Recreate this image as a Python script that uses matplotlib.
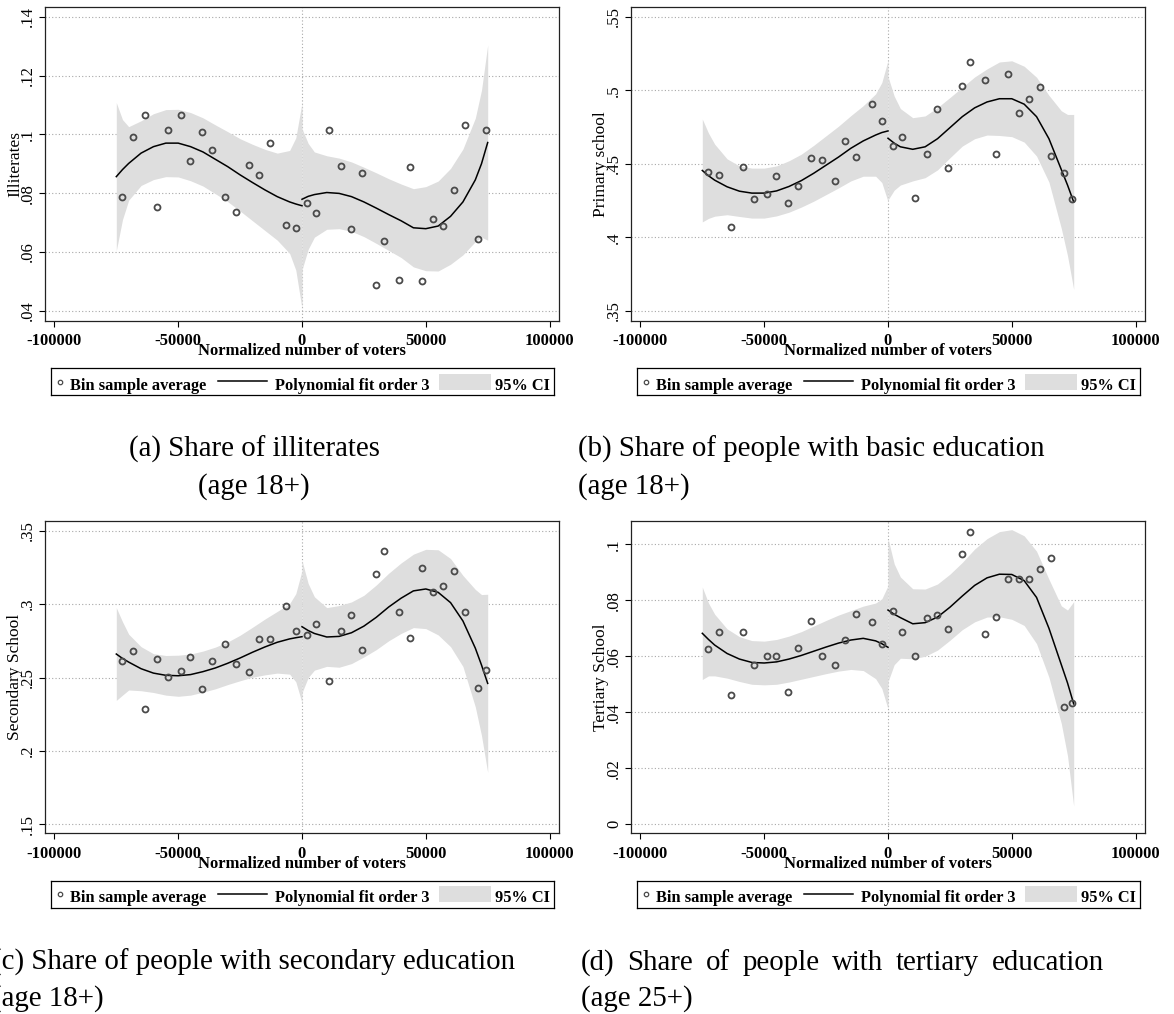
import matplotlib
matplotlib.use("Agg")
import matplotlib.pyplot as plt
from matplotlib.patches import Rectangle
import numpy as np

plt.rcParams["font.family"] = "Liberation Serif"

W, H = 1174, 1014

# x position of every bin average (same bins in all four panels)
bins_left = [-72800, -68200, -63300, -58600, -54000, -48900, -45100, -40500,
             -36400, -31000, -26500, -21400, -17200, -13000, -6500, -2500]
bins_right = [1900, 5700, 11000, 15700, 19900, 24300, 29700, 33200, 39300,
              43500, 48300, 53000, 57000, 61400, 66000, 70900, 74300]

# points where the cubic fit and its 95% band are drawn
fit_x_left = [-75000, -72500, -70000, -65000, -60000, -55000, -50000, -45000, -40000,
              -35000, -30000, -25000, -20000, -15000, -10000, -5000, -2500, 0]
fit_x_right = [0, 2500, 5000, 10000, 15000, 20000, 25000, 30000, 35000,
               40000, 45000, 50000, 55000, 60000, 65000, 70000, 72500, 75000]

# (a) illiterates
illit_left = [.0788, .0991, .1064, .0752, .1015, .1067, .0910, .1009,
              .0948, .0787, .0736, .0897, .0861, .0971, .0693, .0680]
illit_right = [.0768, .0731, .1016, .0893, .0677, .0868, .0488, .0637, .0506,
               .0890, .0502, .0713, .0687, .0809, .1031, .0645, .1015]
illit_fit_left = [.0856, .0880, .0901, .0936, .0958, .0970, .0970, .0958, .0940,
                  .0915, .0890, .0862, .0836, .0811, .0788, .0770, .0763, .0757]
illit_ci_left = [.0252, .0170, .0125, .0110, .0112, .0114, .0115, .0116, .0116,
                 .0117, .0119, .0123, .0130, .0138, .0148, .0175, .0225, .0350]
illit_fit_right = [.0779, .0789, .0795, .0802, .0799, .0788, .0770, .0749, .0727,
                   .0706, .0682, .0679, .0688, .0721, .0770, .0845, .0900, .0972]
illit_ci_right = [.0240, .0180, .0145, .0125, .0120, .0118, .0118, .0120, .0122,
                  .0125, .0133, .0143, .0153, .0163, .0180, .0210, .0250, .0332]

# (b) primary school
basic_left = [.4442, .4424, .4071, .4476, .4261, .4293, .4413, .4232,
              .4347, .4537, .4522, .4383, .4653, .4549, .4904, .4793]
basic_right = [.4623, .4682, .4266, .4569, .4875, .4469, .5029, .5192, .5072,
               .4565, .5110, .4848, .4938, .5022, .4555, .4440, .4257]
basic_fit_left = [.4454, .4418, .4388, .4343, .4313, .4300, .4300, .4315, .4345,
                  .4385, .4435, .4490, .4545, .4605, .4655, .4695, .4712, .4723]
basic_ci_left = [.0350, .0290, .0245, .0190, .0172, .0170, .0170, .0170, .0175,
                 .0180, .0190, .0200, .0210, .0222, .0240, .0280, .0340, .0480]
basic_fit_right = [.4673, .4640, .4615, .4598, .4615, .4670, .4745, .4820, .4880,
                   .4920, .4942, .4942, .4905, .4820, .4670, .4460, .4355, .4240]
basic_ci_right = [.0420, .0320, .0260, .0215, .0210, .0212, .0205, .0200, .0210,
                  .0225, .0250, .0258, .0258, .0268, .0295, .0400, .0480, .0595]

# (c) secondary school
sec_left = [.2612, .2678, .2283, .2624, .2506, .2542, .2637, .2419,
            .2615, .2728, .2592, .2540, .2760, .2760, .2989, .2819]
sec_right = [.2792, .2867, .2474, .2819, .2928, .2685, .3203, .3364, .2948,
             .2767, .3243, .3080, .3121, .3228, .2946, .2431, .2551]
sec_fit_left = [.2660, .2630, .2605, .2560, .2530, .2515, .2512, .2520, .2540,
                .2565, .2597, .2633, .2672, .2708, .2740, .2763, .2771, .2778]
sec_ci_left = [.0316, .0250, .0190, .0150, .0132, .0135, .0140, .0140, .0140,
               .0142, .0145, .0155, .0170, .0190, .0210, .0240, .0300, .0450]
sec_fit_right = [.2846, .2820, .2800, .2776, .2780, .2805, .2850, .2910, .2980,
                 .3040, .3090, .3103, .3080, .3010, .2885, .2700, .2585, .2460]
sec_ci_right = [.0450, .0320, .0250, .0200, .0210, .0210, .0210, .0220, .0230,
                .0240, .0250, .0270, .0290, .0300, .0310, .0400, .0480, .0607]

# (d) tertiary school
tert_left = [.0627, .0685, .0463, .0685, .0570, .0602, .0602, .0473,
             .0630, .0726, .0602, .0570, .0657, .0752, .0721, .0644]
tert_right = [.0760, .0687, .0601, .0735, .0749, .0699, .0964, .1042, .0679,
              .0739, .0877, .0877, .0877, .0911, .0950, .0419, .0432]
tert_fit_left = [.0682, .0660, .0640, .0610, .0590, .0578, .0576, .0580, .0590,
                 .0603, .0618, .0633, .0647, .0658, .0664, .0655, .0645, .0632]
tert_ci_left = [.0165, .0130, .0110, .0088, .0080, .0078, .0078, .0080, .0082,
                .0085, .0090, .0095, .0100, .0105, .0115, .0135, .0160, .0220]
tert_fit_right = [.0765, .0750, .0738, .0716, .0720, .0740, .0775, .0815, .0853,
                  .0880, .0893, .0892, .0870, .0810, .0700, .0570, .0505, .0430]
tert_ci_right = [.0256, .0180, .0145, .0125, .0120, .0118, .0118, .0120, .0130,
                 .0140, .0152, .0160, .0160, .0165, .0175, .0210, .0260, .0365]

xticks = [-100000, -50000, 0, 50000, 100000]

BAND = "#dedede"
MARK = "#4a4a4a"
GRID = "#a8a8a8"


def px_box(left, top, width, height):
    return [left / W, 1 - (top + height) / H, width / W, height / H]


def stata_fmt(v):
    s = f"{v:g}"
    if s.startswith("0."):
        s = s[1:]
    return s


def draw_panel(left, top, height, ylabel, yticks, ylim, pts_l, pts_r,
               fit_l, ci_l, fit_r, ci_r):
    width = 514
    ax = fig.add_axes(px_box(left, top, width, height))
    ax.set_xlim(-103800, 103800)
    ax.set_ylim(*ylim)

    for y in yticks:
        ax.axhline(y, color=GRID, lw=0.8, ls=(0, (1, 2)), zorder=0)
    ax.axvline(0, color=GRID, lw=0.8, ls=(0, (1, 2)), zorder=0)

    for fx, fit, ci in ((fit_x_left, fit_l, ci_l), (fit_x_right, fit_r, ci_r)):
        fit = np.array(fit)
        ci = np.array(ci)
        ax.fill_between(fx, fit - ci, fit + ci, color=BAND, lw=0, zorder=1)
        ax.plot(fx, fit, color="black", lw=1.1, zorder=3)

    ax.plot(bins_left + bins_right, pts_l + pts_r, "o", mfc="none", mec=MARK,
            ms=4.3, mew=1.3, zorder=4)

    ax.set_xticks(xticks)
    ax.set_xticklabels([str(v) for v in xticks], fontsize=12, fontweight="bold")
    ax.set_yticks(yticks)
    ax.set_yticklabels([stata_fmt(v) for v in yticks], fontsize=12)
    ax.tick_params(axis="x", length=4, width=0.8, pad=5)
    ax.tick_params(axis="y", length=4.5, width=0.8, pad=2, labelrotation=90)
    for lab in ax.get_yticklabels():
        lab.set_va("center")
    for sp in ax.spines.values():
        sp.set_linewidth(0.9)
        sp.set_color("#222222")

    ax.text(-30 / width, 0.5, ylabel, rotation=90, ha="center", va="center",
            fontsize=12.5, transform=ax.transAxes)
    ax.text(0.5, -(355 - 320.7) / height, "Normalized number of voters",
            ha="center", va="baseline", fontsize=12, fontweight="bold",
            transform=ax.transAxes)

    # legend box below the plot
    lw_box = 503
    lax = fig.add_axes(px_box(left + 6, top + height + 47.4, lw_box, 27))
    lax.set_xlim(0, lw_box)
    lax.set_ylim(27, 0)
    lax.set_xticks([])
    lax.set_yticks([])
    for sp in lax.spines.values():
        sp.set_linewidth(0.9)
    lax.plot([8.5], [13.5], "o", mfc="none", mec=MARK, ms=3.2, mew=0.9)
    lax.text(19, 21.5, "Bin sample average", fontsize=11.8, fontweight="bold", va="baseline")
    lax.plot([167, 216], [13.3, 13.3], color="black", lw=1.1)
    lax.text(224, 21.5, "Polynomial fit order 3", fontsize=11.8, fontweight="bold", va="baseline")
    lax.add_patch(Rectangle((388, 5.6), 52, 16, color=BAND, lw=0))
    lax.text(499, 21.5, "95% CI", fontsize=11.8, fontweight="bold", va="baseline", ha="right")
    return ax


fig = plt.figure(figsize=(W / 100, H / 100), dpi=100)

draw_panel(45, 7.3, 313.4, "Illiterates", [.04, .06, .08, .1, .12, .14], (.0366, .1432),
           illit_left, illit_right, illit_fit_left, illit_ci_left, illit_fit_right, illit_ci_right)
draw_panel(631, 7.3, 313.4, "Primary school", [.35, .4, .45, .5, .55], (.3432, .5564),
           basic_left, basic_right, basic_fit_left, basic_ci_left, basic_fit_right, basic_ci_right)
draw_panel(45, 520.7, 312.6, "Secondary School", [.15, .2, .25, .3, .35], (.1439, .3568),
           sec_left, sec_right, sec_fit_left, sec_ci_left, sec_fit_right, sec_ci_right)
draw_panel(631, 520.7, 312.6, "Tertiary School", [0, .02, .04, .06, .08, .1], (-.0032, .1084),
           tert_left, tert_right, tert_fit_left, tert_ci_left, tert_fit_right, tert_ci_right)

# sub-captions
CAP = 20.8


def cap(x, ybase, s, ha="left"):
    return fig.text(x / W, 1 - ybase / H, s, fontsize=CAP, ha=ha, va="baseline")


cap(254, 457, "(a) Share of illiterates", ha="center")
cap(254, 494, "(age 18+)", ha="center")
cap(578, 457, "(b) Share of people with basic education")
cap(578, 494, "(age 18+)")
cap(-8, 970, "(c) Share of people with secondary education")
cap(-8, 1006, "(age 18+)")
cap(581, 1006, "(age 25+)")

# (d) first line is set justified between two edges
words = "(d) Share of people with tertiary education".split()
wtexts = [cap(0, 970, w) for w in words]
fig.canvas.draw()
rend = fig.canvas.get_renderer()
widths = [t.get_window_extent(rend).width for t in wtexts]
x0, x1 = 581, 1104
gap = (x1 - x0 - sum(widths)) / (len(words) - 1)
xpos = x0
for t, wd in zip(wtexts, widths):
    t.set_x(xpos / W)
    xpos += wd + gap

fig.savefig("out.png", dpi=100)
